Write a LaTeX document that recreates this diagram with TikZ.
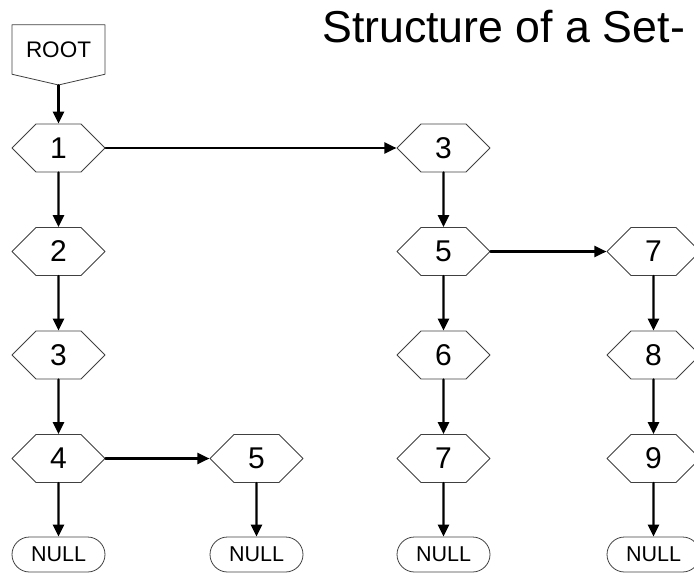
\documentclass[tikz,border=0pt]{standalone}
\usepackage{fontspec}
\setmainfont{Liberation Sans}
\usepackage{tikz}
\usetikzlibrary{arrows.meta,shapes.symbols,shapes.misc}

\begin{document}
\begin{tikzpicture}[line cap=round,line join=round,x=1.0pt,y=-1.0pt,
  >={Triangle[length=12pt,width=11pt]},
  elem/.style={draw=black!75,line width=0.8pt,signal,signal to=east and west,
    signal pointer angle=90,minimum width=93pt,minimum height=48pt,inner sep=0pt,
    font=\fontsize{30}{30}\selectfont},
  nil/.style={draw=black!75,line width=0.8pt,rounded rectangle,minimum width=93pt,
    minimum height=35pt,inner sep=0pt,font=\fontsize{21.5}{21.5}\selectfont},
  link/.style={->,line width=2.3pt}]
\useasboundingbox (0,0) rectangle (694,573);
% heading
\node[anchor=base west,inner sep=0pt,font=\fontsize{44.7}{44.7}\selectfont] (title) at (322,42) {Structure of a Set-};
% entry point
\node[draw=black!75,line width=0.8pt,signal,signal to=south,signal pointer angle=154,
  minimum width=93pt,minimum height=57pt,inner sep=0pt,font=\fontsize{22.5}{22.5}\selectfont] (root) at (58.5,49.5) {ROOT};
% first column
\node[elem] (a1) at (58.5,148) {1};
\node[elem] (a2) at (58.5,251.5) {2};
\node[elem] (a3) at (58.5,355) {3};
\node[elem] (a4) at (58.5,458.5) {4};
\node[nil] (anull) at (58.5,554.5) {NULL};
% second column
\node[elem] (b5) at (256.5,458.5) {5};
\node[nil] (bnull) at (256.5,554.5) {NULL};
% third column
\node[elem] (c3) at (443.5,148) {3};
\node[elem] (c5) at (443.5,251.5) {5};
\node[elem] (c6) at (443.5,355) {6};
\node[elem] (c7) at (443.5,458.5) {7};
\node[nil] (cnull) at (443.5,554.5) {NULL};
% fourth column
\node[elem] (d7) at (653.5,251.5) {7};
\node[elem] (d8) at (653.5,355) {8};
\node[elem] (d9) at (653.5,458.5) {9};
\node[nil] (dnull) at (653.5,554.5) {NULL};
% links
\draw[link] (root.south) -- (a1.north);
\draw[link] (a1) -- (a2);
\draw[link] (a2) -- (a3);
\draw[link] (a3) -- (a4);
\draw[link] (a4) -- (anull);
\draw[link] (a4.east) -- (b5.west);
\draw[link] (b5) -- (bnull);
\draw[link] (a1.east) -- (c3.west);
\draw[link] (c3) -- (c5);
\draw[link] (c5) -- (c6);
\draw[link] (c6) -- (c7);
\draw[link] (c7) -- (cnull);
\draw[link] (c5.east) -- (d7.west);
\draw[link] (d7) -- (d8);
\draw[link] (d8) -- (d9);
\draw[link] (d9) -- (dnull);
\end{tikzpicture}
\end{document}
